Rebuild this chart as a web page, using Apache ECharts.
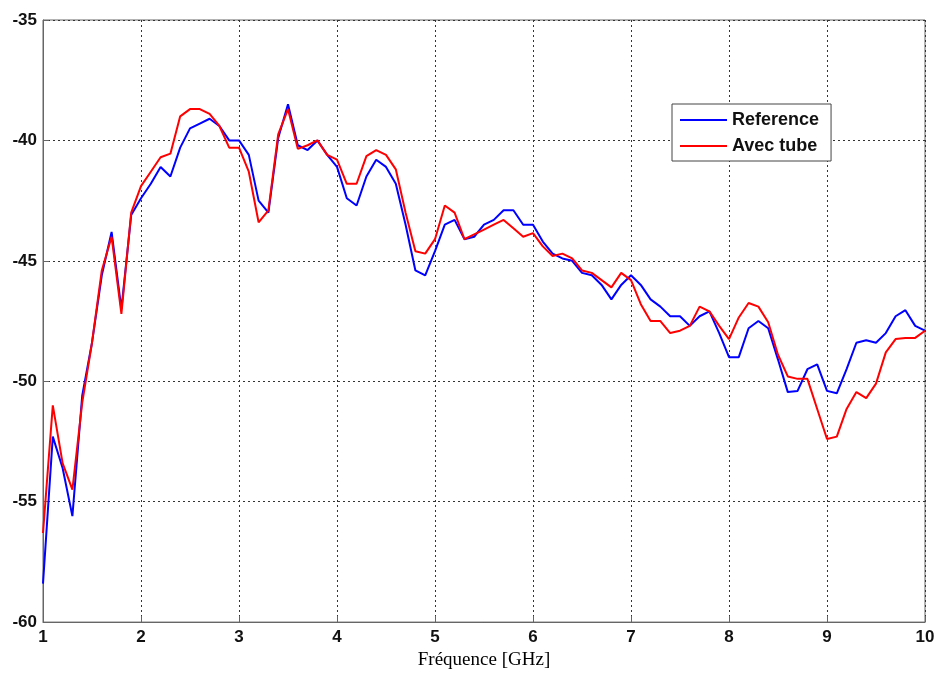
<!DOCTYPE html>
<html><head><meta charset="utf-8">
<script src="https://cdn.jsdelivr.net/npm/echarts@6/dist/echarts.min.js"></script>
<style>html,body{margin:0;padding:0;background:#fff}#c{width:938px;height:675px}</style>
</head><body><div id="c"></div>
<script>
const freq = [1.0,1.1,1.2,1.3,1.4,1.5,1.6,1.7,1.8,1.9,2.0,2.1,2.2,2.3,2.4,2.5,2.6,2.7,2.8,2.9,
3.0,3.1,3.2,3.3,3.4,3.5,3.6,3.7,3.8,3.9,4.0,4.1,4.2,4.3,4.4,4.5,4.6,4.7,4.8,4.9,
5.0,5.1,5.2,5.3,5.4,5.5,5.6,5.7,5.8,5.9,6.0,6.1,6.2,6.3,6.4,6.5,6.6,6.7,6.8,6.9,
7.0,7.1,7.2,7.3,7.4,7.5,7.6,7.7,7.8,7.9,8.0,8.1,8.2,8.3,8.4,8.5,8.6,8.7,8.8,8.9,
9.0,9.1,9.2,9.3,9.4,9.5,9.6,9.7,9.8,9.9,10.0];
const reference = [-58.4,-52.3,-53.6,-55.6,-50.6,-48.4,-45.6,-43.8,-47.0,-43.1,-42.4,-41.8,-41.1,-41.5,-40.3,-39.5,-39.3,-39.1,-39.4,-40.0,
-40.0,-40.6,-42.5,-43.0,-39.9,-38.5,-40.2,-40.4,-40.0,-40.6,-41.1,-42.4,-42.7,-41.5,-40.8,-41.1,-41.8,-43.5,-45.4,-45.6,
-44.6,-43.5,-43.3,-44.1,-44.0,-43.5,-43.3,-42.9,-42.9,-43.5,-43.5,-44.2,-44.7,-44.9,-45.0,-45.5,-45.6,-46.0,-46.6,-46.0,
-45.6,-46.0,-46.6,-46.9,-47.3,-47.3,-47.7,-47.3,-47.1,-48.0,-49.0,-49.0,-47.8,-47.5,-47.8,-49.1,-50.45,-50.4,-49.5,-49.3,
-50.4,-50.5,-49.5,-48.4,-48.3,-48.4,-48.0,-47.3,-47.05,-47.7,-47.9];
const avecTube = [-56.3,-51.0,-53.4,-54.5,-50.9,-48.4,-45.4,-44.0,-47.2,-43.0,-41.9,-41.3,-40.7,-40.55,-39.0,-38.7,-38.7,-38.9,-39.4,-40.3,
-40.3,-41.3,-43.4,-42.9,-39.75,-38.7,-40.35,-40.2,-40.0,-40.6,-40.8,-41.8,-41.8,-40.65,-40.4,-40.6,-41.2,-43.0,-44.6,-44.7,
-44.1,-42.7,-43.0,-44.1,-43.9,-43.7,-43.5,-43.3,-43.65,-44.0,-43.85,-44.4,-44.8,-44.7,-44.9,-45.4,-45.5,-45.8,-46.1,-45.5,
-45.8,-46.8,-47.5,-47.5,-48.0,-47.9,-47.7,-46.9,-47.1,-47.7,-48.25,-47.35,-46.75,-46.9,-47.55,-48.9,-49.8,-49.9,-49.9,-51.15,
-52.4,-52.3,-51.15,-50.45,-50.7,-50.1,-48.8,-48.25,-48.2,-48.2,-47.9];
const seriesNames = ['Reference', 'Avec tube'];
const xAxisName = 'Fréquence [GHz]';

const chart = echarts.init(document.getElementById('c'), null, {renderer: 'canvas'});
const lbl = {color: '#111', fontFamily: 'Liberation Sans, Arial', fontWeight: 'bold', fontSize: 17};
const grid = {lineStyle: {color: '#333', type: [2, 3], width: 1}};
chart.setOption({
  backgroundColor: '#fff',
  animation: false,
  grid: {left: 43, top: 20, width: 882, height: 604, show: true, borderColor: '#666', borderWidth: 1, backgroundColor: 'transparent'},
  legend: {
    left: 672, top: 104, orient: 'vertical', backgroundColor: '#fff', borderColor: '#444', borderWidth: 1,
    padding: [7, 12, 6, 8], itemGap: 8, itemWidth: 47, itemHeight: 2, icon: 'rect',
    textStyle: {color: '#111', fontFamily: 'Liberation Sans, Arial', fontWeight: 'bold', fontSize: 18},
    data: seriesNames
  },
  xAxis: {
    type: 'value', min: 1, max: 10, interval: 1,
    name: xAxisName, nameLocation: 'middle', nameGap: 28,
    nameTextStyle: {color: '#000', fontFamily: 'Liberation Serif, Times New Roman', fontSize: 19},
    axisLine: {show: true, lineStyle: {color: '#666'}},
    axisTick: {show: true, inside: true, length: 6, lineStyle: {color: '#666'}},
    axisLabel: Object.assign({margin: 7}, lbl),
    splitLine: Object.assign({show: true}, grid)
  },
  yAxis: {
    type: 'value', min: -60, max: -35, interval: 5,
    axisLine: {show: true, lineStyle: {color: '#666'}},
    axisTick: {show: true, inside: true, length: 6, lineStyle: {color: '#666'}},
    axisLabel: Object.assign({margin: 6}, lbl),
    splitLine: Object.assign({show: true}, grid)
  },
  series: [
    {name: seriesNames[0], type: 'line', showSymbol: false, symbol: 'none', color: '#0000ff',
     lineStyle: {width: 2, color: '#0000ff'}, data: freq.map((f, i) => [f, reference[i]]), z: 3},
    {name: seriesNames[1], type: 'line', showSymbol: false, symbol: 'none', color: '#ff0000',
     lineStyle: {width: 2, color: '#ff0000'}, data: freq.map((f, i) => [f, avecTube[i]]), z: 4}
  ]
});
</script></body></html>
